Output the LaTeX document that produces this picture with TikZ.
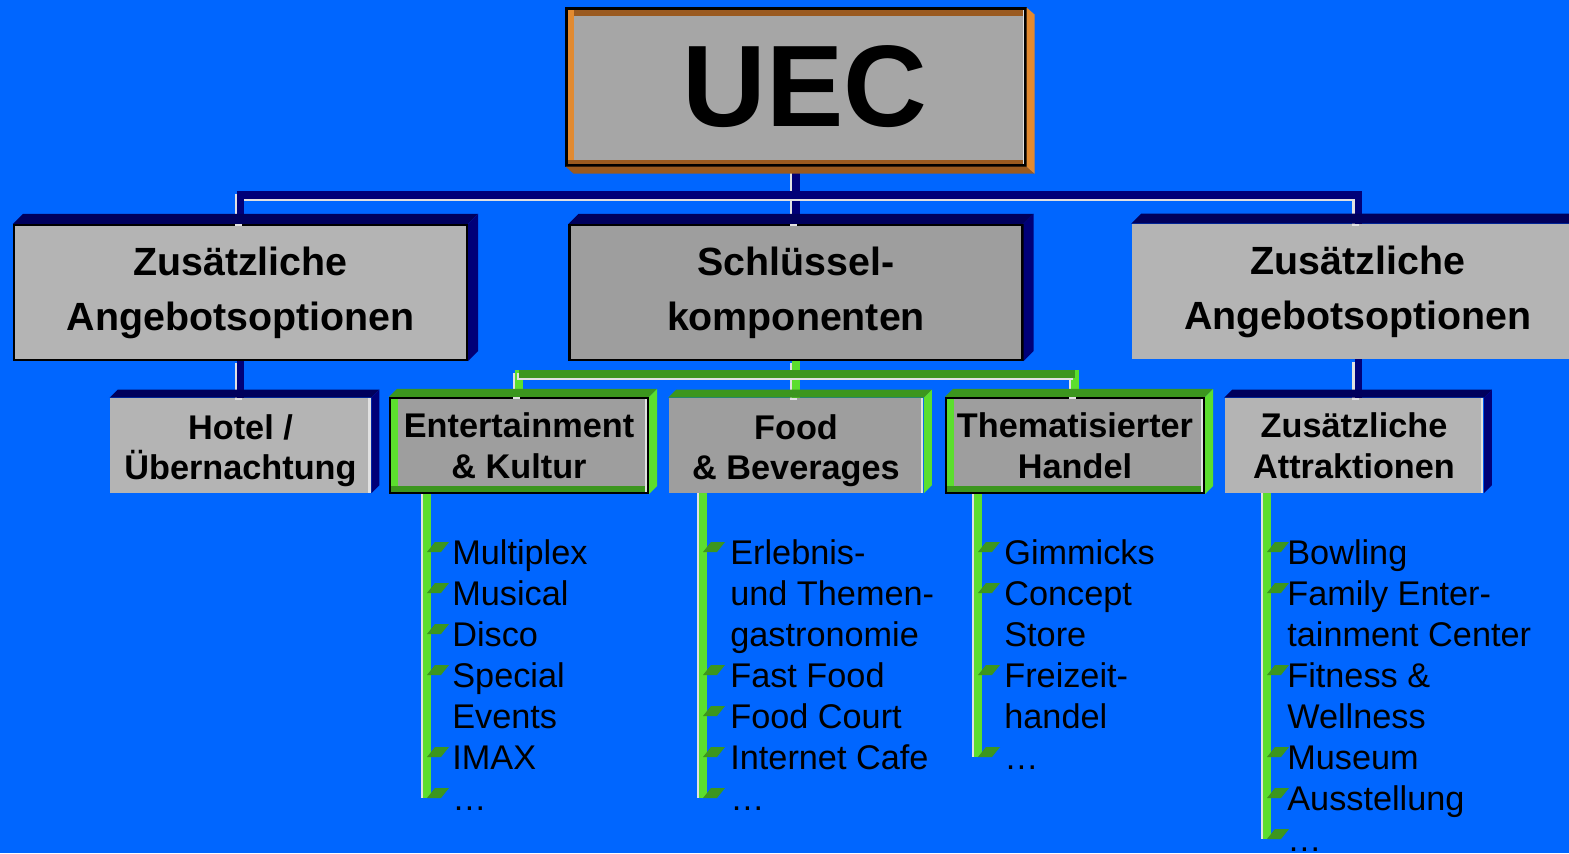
\documentclass[tikz,border=0pt]{standalone}
\usepackage{fontspec}
\setmainfont{Liberation Sans}
\usepackage{tikz}
\usetikzlibrary{calc}
\definecolor{uec-blue}{RGB}{0,102,255}
\definecolor{uec-navy}{RGB}{0,0,120}
\definecolor{uec-navytop}{RGB}{0,0,92}
\definecolor{uec-graylight}{RGB}{180,180,180}
\definecolor{uec-graydark}{RGB}{158,158,158}
\definecolor{uec-gray}{RGB}{166,166,166}
\definecolor{uec-orange}{RGB}{226,138,48}
\definecolor{uec-brown}{RGB}{154,90,32}
\definecolor{uec-gdark}{RGB}{60,150,30}
\definecolor{uec-glight}{RGB}{92,222,46}
\definecolor{uec-hl}{RGB}{225,225,225}

\begin{document}
\begin{tikzpicture}[
        x=0.02cm, y=-0.02cm,
        uecbox/.style={draw=black, line width=1.2pt, fill=uec-gray, minimum width=9.18cm, minimum height=3.14cm, inner sep=0pt, font=\fontsize{66}{66}\selectfont\bfseries, oframe},
        oneb/.style={rectangle, minimum width=9.06cm, minimum height=2.7cm, inner sep=0pt, align=center, font=\fontsize{22.4}{31.2}\selectfont\bfseries},
        twob/.style={rectangle, minimum height=1.9cm, inner sep=0pt, align=center, font=\fontsize{19.5}{23.2}\selectfont\bfseries},
        item/.style={anchor=base west, inner sep=0pt, align=left, font=\fontsize{19.5}{23.2}\selectfont},
        rim/.style={draw=black, line width=1.2pt},
        rhl/.style={path picture={\fill[uec-hl] (path picture bounding box.north east) rectangle ([xshift=-1.5pt]path picture bounding box.south east);}},
        gframe/.style={path picture={
            \fill[uec-glight] (path picture bounding box.north west) rectangle ([xshift=4.5pt]path picture bounding box.south west);
            \fill[uec-gdark] (path picture bounding box.south west) rectangle ([yshift=4pt]path picture bounding box.south east);
            \fill[uec-hl] (path picture bounding box.north east) rectangle ([xshift=-1.5pt]path picture bounding box.south east);}},
        oframe/.style={path picture={
            \fill[uec-brown] (path picture bounding box.north west) rectangle ([yshift=-4.5pt]path picture bounding box.north east);
            \fill[uec-orange] (path picture bounding box.north west) rectangle ([xshift=4.5pt]path picture bounding box.south west);
            \fill[uec-brown] (path picture bounding box.south west) rectangle ([yshift=3pt]path picture bounding box.south east);
            \fill[uec-hl] (path picture bounding box.north east) rectangle ([xshift=-1.5pt]path picture bounding box.south east);}},
        pipe/.style={draw=uec-navy, line width=4pt, preaction={draw=uec-hl, line width=4pt, transform canvas={shift={(-1.3pt,-1.3pt)}}}},
        gpipe/.style={pipe, draw=uec-glight},
        listline/.style={draw=uec-glight, line width=4.5pt, preaction={draw=uec-hl, line width=4.5pt, transform canvas={xshift=-1.4pt}}},
        tick/.style={fill=uec-gdark}
    ]
        \useasboundingbox (0,0) rectangle (1569,853);
        \clip (0,0) rectangle (1569,853);
        \fill[uec-blue] (0,0) rectangle (1569,853);

        % Top node
        \node[uecbox] (uec) at (796,87) {\hspace{10pt}UEC};

        % First level
        \node[oneb, fill=uec-graylight, rim] (angL) at (240.5,292.5) {Zusätzliche\\Angebotsoptionen};
        \node[oneb, fill=uec-graydark, rim] (schl) at (796,292.5) {Schlüssel-\\komponenten};
        \node[oneb, fill=uec-graylight, rhl] (angR) at (1358,291.5) {Zusätzliche\\Angebotsoptionen};

        % Second level
        \node[twob, fill=uec-graylight, minimum width=5.22cm, rhl] (hotel) at (240.5,445.5) {\rule{0pt}{20pt}Hotel /\\Übernachtung};
        \node[twob, fill=uec-graydark, minimum width=5.16cm, rim, gframe] (ent) at (519,445.5) {Entertainment\\\& Kultur};
        \node[twob, fill=uec-graydark, minimum width=5.1cm, rhl] (food) at (796,445.5) {\rule{0pt}{20pt}Food\\\& Beverages};
        \node[twob, fill=uec-graydark, minimum width=5.16cm, rim, gframe] (hand) at (1075,445.5) {Thematisierter\\Handel};
        \node[twob, fill=uec-graylight, minimum width=5.18cm, rhl] (attr) at (1354,445.5) {Zusätzliche\\Attraktionen};

        % Connectors
        \coordinate (nbus) at (0,195);
        \coordinate (gbus) at (0,374);
        \draw[pipe] (uec.south) -- (uec.south |- schl.north);
        \draw[pipe] (angL.north) |- (nbus -| angR.north) -- (angR.north);
        \draw[pipe] (angL.south) -- (hotel.north);
        \draw[pipe] (angR.south) -- (angR.south |- attr.north);
        \draw[gpipe] (schl.south) -- (food.north);
        \draw[gpipe] (ent.north) |- (gbus -| hand.north) -- (hand.north);
        \draw[gpipe, draw=uec-gdark] (gbus -| ent.north) -- (gbus -| hand.north);

        % 3D sides
        \foreach \n/\d/\tc/\sc in {angL/10/uec-navytop/uec-navy, schl/10/uec-navytop/uec-navy, angR/10/uec-navytop/uec-navy,
                                   hotel/8/uec-navytop/uec-navy, attr/8/uec-navytop/uec-navy,
                                   ent/8/uec-gdark/uec-glight, food/8/uec-gdark/uec-glight, hand/8/uec-gdark/uec-glight}{
            \fill[\tc] (\n.north west) -- ([shift={(\d,-\d)}]\n.north west) -- ([shift={(\d,-\d)}]\n.north east) -- (\n.north east) -- cycle;
            \fill[\sc] (\n.north east) -- ([shift={(\d,-\d)}]\n.north east) -- ([shift={(\d,-\d)}]\n.south east) -- (\n.south east) -- cycle;
        }
        \fill[uec-brown] (uec.south west) -- ([shift={(8,7)}]uec.south west) -- ([shift={(8,7)}]uec.south east) -- (uec.south east) -- cycle;
        \fill[uec-orange] (uec.north east) -- ([shift={(8,7)}]uec.north east) -- ([shift={(8,7)}]uec.south east) -- (uec.south east) -- cycle;

        % Entertainment list (first line / last line)
        \foreach \txt/\k/\l in {Multiplex/0/0, Musical/1/1, Disco/2/2, {Special\\Events}/3/4, IMAX/5/5, {\ldots}/6/6}
            \node[item] (ent-\k) at (452,{564+41*\l}) {\txt};
        \draw[listline] ($(ent.south -| ent-0.west)+(-25,0)$) -- ($(ent-6.base west)+(-25,-12)$);
        \foreach \k/\l in {0/0,1/1,2/2,3/4,5/5,6/6}
            \fill[tick] (ent-\k.base west) ++(-25,{-12-41*(\l-\k)}) -- ++(14,0) -- ++(8,-10) -- ++(-14,0) -- cycle;

        % Food list
        \foreach \txt/\k/\l in {{Erlebnis-\\und Themen-\\gastronomie}/0/2, Fast Food/3/3, Food Court/4/4, Internet Cafe/5/5, {\ldots}/6/6}
            \node[item] (food-\k) at (730,{564+41*\l}) {\txt};
        \draw[listline] ($(food.south -| food-0.west)+(-27,0)$) -- ($(food-6.base west)+(-27,-12)$);
        \foreach \k/\l in {0/2,3/3,4/4,5/5,6/6}
            \fill[tick] (food-\k.base west) ++(-27,{-12-41*(\l-\k)}) -- ++(14,0) -- ++(8,-10) -- ++(-14,0) -- cycle;

        % Handel list
        \foreach \txt/\k/\l in {Gimmicks/0/0, {Concept\\Store}/1/2, {Freizeit-\\handel}/3/4, {\ldots}/5/5}
            \node[item] (hand-\k) at (1004,{564+41*\l}) {\txt};
        \draw[listline] ($(hand.south -| hand-0.west)+(-26,0)$) -- ($(hand-5.base west)+(-26,-12)$);
        \foreach \k/\l in {0/0,1/2,3/4,5/5}
            \fill[tick] (hand-\k.base west) ++(-26,{-12-41*(\l-\k)}) -- ++(14,0) -- ++(8,-10) -- ++(-14,0) -- cycle;

        % Attraktionen list
        \foreach \txt/\k/\l in {Bowling/0/0, {Family Enter-\\tainment Center}/1/2, {Fitness \&\\Wellness}/3/4, Museum/5/5, Ausstellung/6/6, {\ldots}/7/7}
            \node[item] (attr-\k) at (1287,{564+41*\l}) {\txt};
        \draw[listline] ($(attr.south -| attr-0.west)+(-20,0)$) -- ($(attr-7.base west)+(-20,-12)$);
        \foreach \k/\l in {0/0,1/2,3/4,5/5,6/6,7/7}
            \fill[tick] (attr-\k.base west) ++(-20,{-12-41*(\l-\k)}) -- ++(14,0) -- ++(8,-10) -- ++(-14,0) -- cycle;
    \end{tikzpicture}
\end{document}
